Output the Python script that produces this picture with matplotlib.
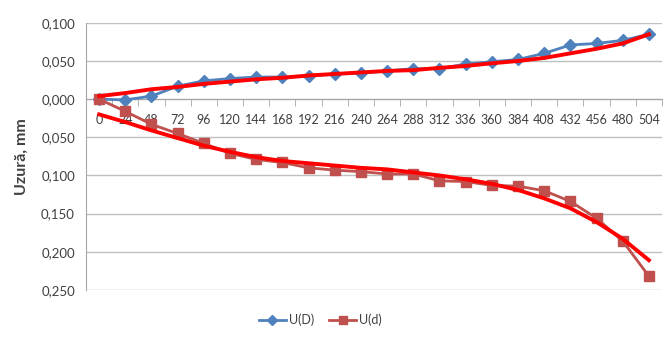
import numpy as np
from matplotlib import pyplot as plt
from matplotlib.ticker import FuncFormatter

plt.rcParams['font.family'] = ['Lato', 'DejaVu Sans']

hours = [0, 24, 48, 72, 96, 120, 144, 168, 192, 216, 240, 264, 288, 312, 336, 360, 384, 408, 432, 456, 480, 504]
u_D = [0.000, -0.001, 0.004, 0.017, 0.024, 0.027, 0.029, 0.029, 0.030, 0.033, 0.034, 0.037, 0.040, 0.040,
       0.046, 0.049, 0.052, 0.060, 0.071, 0.073, 0.077, 0.085]
u_d = [0.000, -0.016, -0.033, -0.045, -0.058, -0.071, -0.079, -0.083, -0.090, -0.093, -0.095, -0.098, -0.098,
       -0.107, -0.108, -0.113, -0.114, -0.120, -0.134, -0.156, -0.186, -0.232]
# trendlines (red)
trend_D = [0.004, 0.008, 0.013, 0.016, 0.020, 0.023, 0.026, 0.028, 0.031, 0.033, 0.035, 0.037, 0.038, 0.041,
           0.0435, 0.047, 0.050, 0.054, 0.060, 0.066, 0.073, 0.085]
trend_d = [-0.020, -0.030, -0.041, -0.051, -0.061, -0.069, -0.076, -0.081, -0.084, -0.087, -0.090, -0.092,
           -0.096, -0.100, -0.105, -0.111, -0.119, -0.130, -0.143, -0.161, -0.183, -0.211]

fig = plt.figure(figsize=(6.67, 3.46), dpi=100)
ax = fig.add_axes([0.129, 0.162, 0.8635, 0.772])

x = np.arange(len(hours))

ax.plot(x, u_D, color='#4F81BD', lw=2, marker='D', ms=6, mfc='#4F81BD', mec='#4F81BD', label='U(D)', zorder=3)
ax.plot(x, u_d, color='#C0504D', lw=2, marker='s', ms=7, mfc='#C0504D', mec='#C0504D', label='U(d)', zorder=3)

ax.plot(x, trend_D, color='#FF0000', lw=2.8, zorder=4, solid_joinstyle='round')
ax.plot(x, trend_d, color='#FF0000', lw=2.8, zorder=4, solid_joinstyle='round')

ax.set_xlim(-0.5, len(hours) - 0.5)
ax.set_ylim(-0.25, 0.1)
ax.set_yticks(np.arange(-0.25, 0.1001, 0.05))
ax.yaxis.set_major_formatter(FuncFormatter(lambda v, p: ('%.3f' % abs(v)).replace('.', ',')))
ax.grid(axis='y', color='#BFBFBF', lw=1)
ax.set_axisbelow(True)

ax.spines['bottom'].set_position(('data', 0))
ax.spines['bottom'].set_color('#A6A6A6')
ax.spines['left'].set_color('#A6A6A6')
ax.spines['top'].set_visible(False)
ax.spines['right'].set_visible(False)

ax.set_xticks(x)
ax.set_xticklabels([str(h) for h in hours])
ax.set_xticks(np.arange(-0.5, len(hours), 1), minor=True)
ax.tick_params(axis='x', which='major', length=0, pad=11, labelsize=9, colors='#404040')
ax.tick_params(axis='x', which='minor', direction='out', length=5, color='#A6A6A6')
ax.tick_params(axis='y', length=0, labelsize=9.5, colors='#404040', pad=8)

ax.set_ylabel('Uzură, mm', fontsize=11.5, fontweight='bold', color='#404040')
ax.yaxis.set_label_coords(-0.1, 0.5)

fig.legend(loc='center', bbox_to_anchor=(320 / 667, 0.075), ncol=2, frameon=False, fontsize=9,
           handlelength=2.2, handletextpad=0.2, columnspacing=1.2, labelcolor='#404040', markerscale=0.8)

plt.savefig('out.png', dpi=100)
